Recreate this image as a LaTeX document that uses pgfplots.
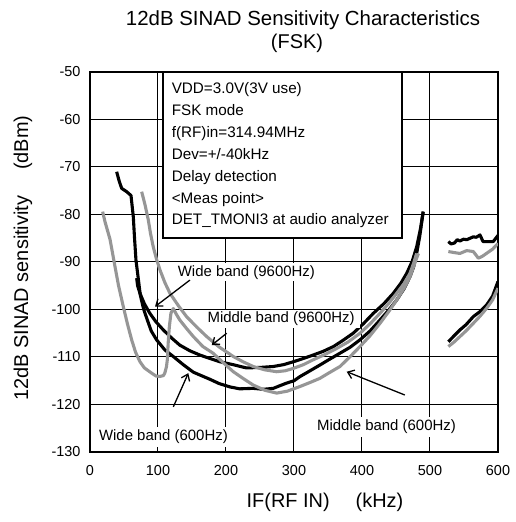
\documentclass[border=0pt]{standalone}
\usepackage{pgfplots}
\pgfplotsset{compat=1.18}
\usepackage{fontspec}
\setmainfont{Liberation Sans}
\usetikzlibrary{arrows.meta}
\definecolor{cgray}{RGB}{150,150,150}
\newcommand{\lf}{\fontsize{15}{17}\selectfont}
\newcommand{\boxf}{\fontsize{15.3}{17}\selectfont}
\begin{document}
\begin{tikzpicture}
\begin{axis}[
  scale only axis, width=408bp, height=380bp,
  xmin=0, xmax=600, ymin=-130, ymax=-50,
  xtick={0,100,...,600}, ytick={-130,-120,...,-50},
  grid=major, major grid style={black, line width=1bp},
  major tick length=0pt,
  axis line style={black, line width=1.6bp},
  /pgf/number format/assume math mode=true,
  ticklabel style={font=\fontsize{14.5}{14.5}\selectfont},
  xticklabel style={yshift=-10bp},
  yticklabel style={xshift=-6bp},
  clip=true,
]
% Wide band (600Hz) - black lower
\addplot[black, line width=3.1bp, line join=round] coordinates {
(39.2,-71) (43,-73) (46.6,-74.5) (53.9,-75.2) (60.3,-76) (63.7,-80.5) (65.5,-85) (67.6,-89.6) (71,-93.5) (74,-97) (79,-100) (84.3,-102.2) (90,-104.5) (98,-106.4) (110,-108.5) (122.5,-109.9) (137,-111.6) (152,-113.2) (165,-114) (176.5,-114.7) (190,-115.6) (205.9,-116.3) (220,-116.7) (240,-116.6) (255,-116.8) (269.6,-116.6) (280,-116) (289,-115.5) (300,-115) (309,-114.1) (320,-113.2) (338,-111.7) (352,-110.5) (367.6,-109.2) (382,-108) (397,-106.4) (412,-104.5) (426.5,-102.2) (440,-100) (451,-98) (462,-95.6) (470.6,-93.1) (476,-91) (480.4,-88.2) (485,-84.5) (490,-79.4)};
% Wide band (9600Hz) - black upper
\addplot[black, line width=3.1bp, line join=round] coordinates {
(68.6,-93.4) (70,-95) (73.5,-96.6) (80,-98.8) (88,-100.8) (97,-102.6) (107.8,-104.3) (120,-106) (132,-107.5) (147,-108.7) (161.8,-109.6) (176,-110.3) (191,-111) (210,-111.6) (230,-112.3) (250,-112.2) (269.6,-112) (285,-111.6) (299,-111) (314,-110.3) (328,-109.6) (343,-108.8) (358,-107.8) (372,-106.5) (387,-105) (402,-103) (416.7,-100.8) (432,-98.8) (446,-96.6) (457,-94.5) (465.7,-92.4) (474,-89.8) (480.4,-86.8) (486,-83) (490,-79.4)};
% Middle band (9600Hz) - gray upper
\addplot[cgray, line width=3.1bp, line join=round] coordinates {
(76,-75.2) (81,-78) (85.8,-81.2) (89,-84) (93,-86.8) (98,-89.5) (103,-91.7) (110,-94.3) (117.6,-96.6) (130,-99.2) (142,-101.5) (157,-103.7) (171.6,-105.7) (190,-107.9) (210.8,-109.9) (225,-111) (240,-112) (257,-112.7) (274.5,-113.1) (287,-112.9) (299,-112.4) (314,-111.6) (328,-110.6) (345,-109.5) (362.7,-108.2) (380,-106.8) (397,-105) (412,-103) (426.5,-100.8) (440,-98.6) (451,-96.6) (462,-94.5) (470.6,-92.4) (476,-90.2) (480.4,-88.2)};
% Middle band (600Hz) - gray lower with dip
\addplot[cgray, line width=3.1bp, line join=round] coordinates {
(18.6,-79.4) (22,-81.5) (26,-83.5) (29.4,-85.2) (33,-88) (36.8,-91) (42,-95) (49,-99.4) (55,-103) (61.3,-106.4) (67,-109) (73.5,-111) (80,-112.3) (90.7,-113.4) (97,-114) (103,-114.1) (108,-113.9) (110,-113.4) (112.5,-112) (113.7,-110.6) (115,-107) (116.7,-103.6) (119,-100.8) (122.5,-99.8) (127,-101) (132,-102.2) (142,-104) (152,-105.7) (166,-107.8) (181,-109.2) (196,-111.2) (210.8,-113.1) (225,-114.5) (240,-115.9) (257,-117) (274.5,-117.6) (290,-117.2) (309,-116.2) (323,-115.4) (338,-114.5) (352,-113.3) (367.6,-112) (382,-110) (397,-107.8) (412,-105.5) (426.5,-102.9) (440,-100.3) (451,-98) (462,-95.5) (470.6,-93.1) (477,-90.5) (483,-88.2)};
% right-side segments
\addplot[black, line width=3.1bp, line join=round] coordinates {
(527,-85.7) (531,-86.2) (536,-86) (540,-85.3) (544,-85.6) (549,-85.2) (554,-85.3) (559,-85) (563.7,-84.7) (568,-84.8) (573.5,-84.3) (578,-85.7) (585,-85.7) (593,-85.7) (600,-84.4)};
\addplot[cgray, line width=3.1bp, line join=round] coordinates {
(527,-87.8) (535,-88) (544,-88.2) (554,-87.6) (563.7,-87.8) (568,-88.6) (571,-89.2) (577,-88.8) (583,-88.2) (592,-87.3) (600,-86.1)};
\addplot[black, line width=3.1bp, line join=round] coordinates {
(527,-106.8) (535,-105.6) (544,-104.3) (553,-103.2) (563.7,-101.5) (573,-100.5) (583,-99.1) (592,-97.2) (600,-94.1)};
\addplot[cgray, line width=3.1bp, line join=round] coordinates {
(527,-107.8) (535,-106.9) (544,-105.7) (553,-104.5) (563.7,-102.9) (573,-101.5) (583,-99.8) (592,-98) (600,-95.5)};

% info box
\draw[black, line width=1.5bp, fill=white] (axis cs:107,-50) rectangle (axis cs:459,-84.9);
\node[anchor=base west, inner sep=0pt, font=\boxf] at (axis cs:120,-54.6) {VDD=3.0V(3V use)};
\node[anchor=base west, inner sep=0pt, font=\boxf] at (axis cs:120,-59.2) {FSK mode};
\node[anchor=base west, inner sep=0pt, font=\boxf] at (axis cs:120,-63.8) {f(RF)in=314.94MHz};
\node[anchor=base west, inner sep=0pt, font=\boxf] at (axis cs:120,-68.4) {Dev=+/-40kHz};
\node[anchor=base west, inner sep=0pt, font=\boxf] at (axis cs:120,-73.0) {Delay detection};
\node[anchor=base west, inner sep=0pt, font=\boxf] at (axis cs:120,-77.6) {<Meas point>};
\node[anchor=base west, inner sep=0pt, font=\boxf] at (axis cs:120,-82.2) {DET\_TMONI3 at audio analyzer};

% curve labels
\node[fill=white, inner xsep=5bp, inner ysep=2bp, font=\lf] at (axis cs:230,-92.2) {Wide band (9600Hz)};
\node[fill=white, inner xsep=5bp, inner ysep=2bp, font=\lf] at (axis cs:281,-102) {Middle band (9600Hz)};
\node[fill=white, inner xsep=4bp, inner ysep=3bp, font=\lf] at (axis cs:108,-126.8) {Wide band (600Hz)};
\node[fill=white, inner xsep=5bp, inner ysep=3bp, font=\lf] at (axis cs:436,-124.7) {Middle band (600Hz)};

% arrows
\draw[black, line width=1.3bp, -{Straight Barb[length=6bp,width=9bp]}] (axis cs:147,-93.8) -- (axis cs:95.6,-99.4);
\draw[black, line width=1.3bp, -{Straight Barb[length=6bp,width=9bp]}] (axis cs:201,-105) -- (axis cs:179,-107.5);
\draw[black, line width=1.3bp, -{Straight Barb[length=6bp,width=9bp]}] (axis cs:122.5,-120.5) -- (axis cs:144.6,-113.4);
\draw[black, line width=1.3bp, -{Straight Barb[length=6bp,width=9bp]}] (axis cs:463,-118) -- (axis cs:377.5,-113.1);
\end{axis}
% titles and labels (frame SW corner at origin)
\node[font=\fontsize{20.5}{20.5}\selectfont, anchor=base] at (213bp,426bp) {12dB SINAD Sensitivity Characteristics};
\node[font=\fontsize{20}{20}\selectfont, anchor=base] at (207bp,403bp) {(FSK)};
\node[font=\fontsize{20}{20}\selectfont, rotate=90] at (-67bp,194bp) {12dB SINAD sensitivity\hspace{26bp}(dBm)};
\node[font=\fontsize{20}{20}\selectfont] at (235bp,-50bp) {IF(RF IN)\hspace{26bp}(kHz)};
\pgfresetboundingbox
\path[use as bounding box] (-90bp,-70bp) rectangle (426bp,452bp);
\end{tikzpicture}
\end{document}
